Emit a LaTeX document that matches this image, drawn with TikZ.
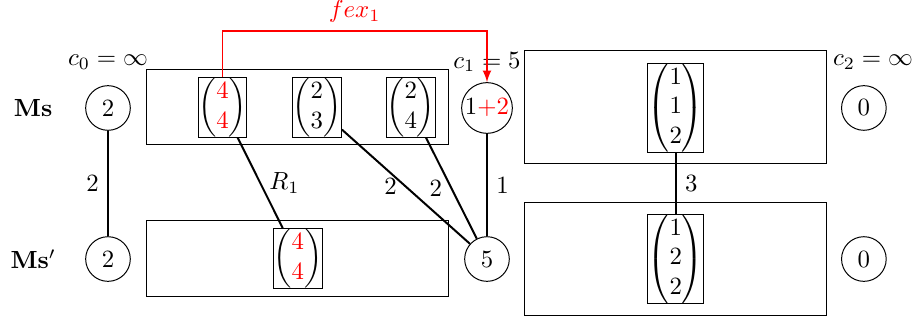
\documentclass[tikz,border=0pt]{standalone}
\usepackage{amsmath}
\usepackage{amssymb}
\usepackage{tikz}
\usepackage{xcolor}
\tikzset{
    cost-node/.style = {draw, circle, minimum size=18pt, inner sep=0.5pt},
    vec-box/.style = {draw, rectangle, inner sep=0pt},
    group-box/.style = {draw, rectangle, minimum width=4.28cm},
    cost-edge/.style = {thick},
}

\begin{document}
\begin{tikzpicture}
\useasboundingbox (0,0) rectangle (12.95,4.53);
% row labels
\node (ms) at (0.47,3.0) {\textbf{Ms}};
\node (msp) at (0.47,0.86) {\textbf{Ms}$'$};
% groups
\node [group-box, minimum height=1.06cm] (g1) at (4.22,3.01) {};
\node [group-box, minimum height=1.07cm] (g1b) at (4.22,0.865) {};
\node [group-box, minimum height=1.6cm] (g2) at (9.575,3.01) {};
\node [group-box, minimum height=1.59cm] (g2b) at (9.575,0.86) {};
% cost circles
\node [cost-node] (c0) at (1.53,3.0) {2};
\node [cost-node] (c0b) at (1.53,0.86) {2};
\node [cost-node] (c1) at (6.9,3.0) {$1{\color{red}+2}$};
\node [cost-node] (c1b) at (6.9,0.86) {5};
\node [cost-node] (c2) at (12.24,3.0) {0};
\node [cost-node] (c2b) at (12.24,0.86) {0};
\node (cap0) at (1.53,3.65) {$c_0 = \infty$};
\node (cap1) at (6.9,3.65) {$c_1 = 5$};
\node (cap2) at (12.37,3.65) {$c_2 = \infty$};
% vectors
\node [vec-box] (v1) at (3.152,3.01) {$\begin{pmatrix}\color{red}4\\\color{red}4\end{pmatrix}$};
\node [vec-box] (v2) at (4.49,3.01) {$\begin{pmatrix}2\\3\end{pmatrix}$};
\node [vec-box] (v3) at (5.82,3.01) {$\begin{pmatrix}2\\4\end{pmatrix}$};
\node [vec-box] (v4) at (4.22,0.87) {$\begin{pmatrix}\color{red}4\\\color{red}4\end{pmatrix}$};
\node [vec-box] (v5) at (9.575,3.0) {$\begin{pmatrix}1\\1\\2\end{pmatrix}$};
\node [vec-box] (v6) at (9.575,0.86) {$\begin{pmatrix}1\\2\\2\end{pmatrix}$};
% edges
\draw [cost-edge] (c0) -- node[left] {2} (c0b);
\draw [cost-edge] (v1) -- node[right] {$R_1$} (v4);
\draw [cost-edge] (v2) -- node[left] {2} (c1b);
\draw [cost-edge] (v3) -- node[left] {2} (c1b);
\draw [cost-edge] (c1) -- node[right] {1} (c1b);
\draw [cost-edge] (v5) -- node[right] {3} (v6);
\draw [red, semithick, -latex] (v1.north) -- ++(0,0.65) -| node[pos=0.25, above] {$fex_1$} (c1.north);
\end{tikzpicture}
\end{document}
